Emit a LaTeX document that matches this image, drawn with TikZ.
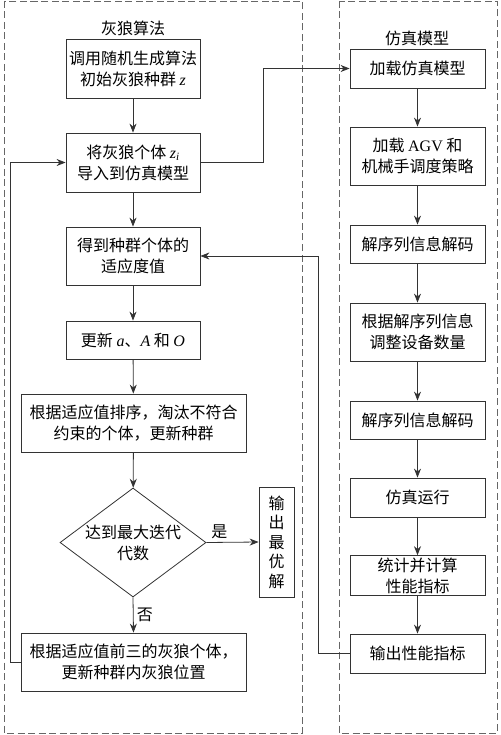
\documentclass[tikz,border=0pt]{standalone}
\usepackage{fontspec}
\setmainfont{Noto Sans CJK SC}
\newfontfamily\latin{Liberation Serif}
\newcommand{\var}[1]{{\latin\itshape #1}}
\usetikzlibrary{arrows.meta, shapes.geometric}
\tikzset{
    proc/.style={rectangle, draw=black!80, line width=0.8pt, align=center, inner sep=2pt},
    decision/.style={diamond, draw=black!80, line width=0.8pt, align=center, inner sep=0pt,
                     aspect=1.34, minimum width=146pt, minimum height=109pt},
    frame/.style={draw=black!60, line width=0.8pt, dash pattern=on 7pt off 3.5pt},
    flow/.style={draw=black!80, line width=0.8pt, -{Stealth[length=9pt, width=7pt]}},
    title/.style={inner sep=0pt}
}

\begin{document}
\begin{tikzpicture}
  [
    x                       = 1pt,
    y                       = -1pt,
    every node/.style       = {font=\fontsize{16}{21}\selectfont},
  ]
  \useasboundingbox (0,0) rectangle (500,735);
  \draw [frame] (4,1) rectangle (302,733);
  \draw [frame] (339,1) rectangle (497,733);

  \node [title] (tg) at (133,28) {灰狼算法};
  \node [proc, minimum width=134pt, minimum height=59pt] (g1) at (133,68.5) {调用随机生成算法\\初始灰狼种群 \var{z}};
  \node [proc, minimum width=134pt, minimum height=59pt] (g2) at (133,162.5) {将灰狼个体 \var{z\textsubscript{i}}\\导入到仿真模型};
  \node [proc, minimum width=134pt, minimum height=58pt] (g3) at (133,256) {得到种群个体的\\适应度值};
  \node [proc, minimum width=134pt, minimum height=38pt] (g4) at (133,340) {更新 \var{a}、\var{A} 和 \var{O}};
  \node [proc, minimum width=225pt, minimum height=58pt] (g5) at (133.5,423) {根据适应值排序，淘汰不符合\\约束的个体，更新种群};
  \node [decision] (dia) at (133,542.5) {达到最大迭代\\代数};
  \node [proc, minimum width=35pt, minimum height=110pt, font=\fontsize{16}{19.5}\selectfont] (out) at (276.5,542) {输\\出\\最\\优\\解};
  \node [proc, minimum width=225pt, minimum height=58pt] (g6) at (133.5,662) {根据适应值前三的灰狼个体，\\更新种群内灰狼位置};

  \node [title] (tr) at (417,38) {仿真模型};
  \node [proc, minimum width=135pt, minimum height=39pt] (r1) at (417.5,68.5) {加载仿真模型};
  \node [proc, minimum width=135pt, minimum height=58pt] (r2) at (417.5,156) {加载 {\latin AGV} 和\\机械手调度策略};
  \node [proc, minimum width=135pt, minimum height=38pt] (r3) at (417.5,244) {解序列信息解码};
  \node [proc, minimum width=135pt, minimum height=58pt] (r4) at (417.5,332) {根据解序列信息\\调整设备数量};
  \node [proc, minimum width=135pt, minimum height=38pt] (r5) at (417.5,420) {解序列信息解码};
  \node [proc, minimum width=135pt, minimum height=39pt] (r6) at (417.5,497.5) {仿真运行};
  \node [proc, minimum width=135pt, minimum height=39pt] (r7) at (417.5,575.5) {统计并计算\\性能指标};
  \node [proc, minimum width=135pt, minimum height=39pt] (r8) at (417.5,653.5) {输出性能指标};

  \foreach \a/\b in {g1/g2, g2/g3, g3/g4, g4/g5, g5/dia,
                     r1/r2, r2/r3, r3/r4, r4/r5, r5/r6, r6/r7, r7/r8}
    \draw [flow] (\a) -- (\b);
  \draw [flow] (dia.east) -- node [pos=0.25, above] {是} (out.west);
  \draw [flow] (dia.south) -- node [right] {否} (g6.north);
  \draw [flow] (g6.west) -- ++(-10,0) |- (g2.west);
  \draw [flow] (g2.east) -- ++(63,0) |- (r1.west);
  \draw [flow] (r8.west) -- ++(-31,0) |- (g3.east);
\end{tikzpicture}
\end{document}
